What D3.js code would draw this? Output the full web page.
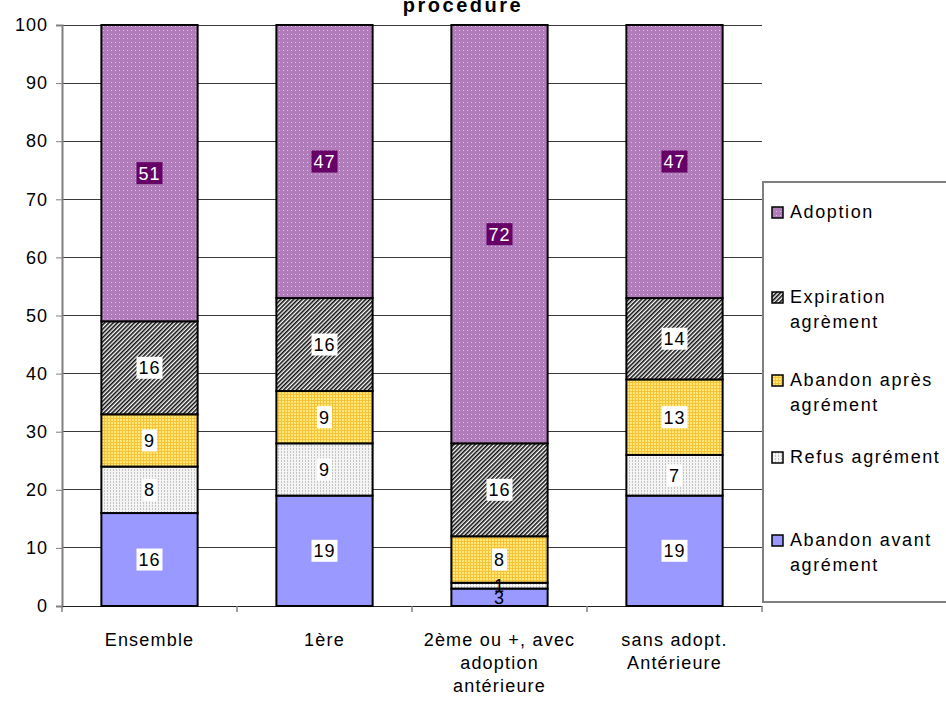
<!DOCTYPE html>
<html>
<head>
<meta charset="utf-8">
<script src="https://cdn.jsdelivr.net/npm/d3@7"></script>
<style>
  body { margin: 0; background: #fff; }
  svg { font-family: Arial, "Liberation Sans", sans-serif; }
</style>
</head>
<body>
<div class="chart"></div>
<script>
// Data.
const categories = ["Ensemble", "1ère", "2ème ou +, avec adoption antérieure", "sans adopt. Antérieure"];
const categoryLines = [["Ensemble"], ["1ère"], ["2ème ou +, avec", "adoption", "antérieure"], ["sans adopt.", "Antérieure"]];
const seriesNames = ["Abandon avant agrément", "Refus agrément", "Abandon après agrément", "Expiration agrèment", "Adoption"];
const abandonAvant = [16, 19, 3, 19];
const refus = [8, 9, 1, 7];
const abandonApres = [9, 9, 8, 13];
const expiration = [16, 16, 16, 14];
const adoption = [51, 47, 72, 47];
const yTicks = [0, 10, 20, 30, 40, 50, 60, 70, 80, 90, 100];

const seriesValues = [abandonAvant, refus, abandonApres, expiration, adoption];
const seriesKeys = ["avant", "refus", "apres", "expir", "adopt"];

const table = categories.map((c, i) => {
  const row = { cat: c };
  seriesKeys.forEach((k, j) => (row[k] = seriesValues[j][i]));
  return row;
});

// Layout.
const W = 946, H = 704;
const margin = { top: 25, right: 184, bottom: 98, left: 62 };
const width = W - margin.left - margin.right;
const height = H - margin.top - margin.bottom;

const svg = d3.select(".chart").append("svg").attr("width", W).attr("height", H);

// Patterns.
const defs = svg.append("defs");

const pAdopt = defs.append("pattern").attr("id", "p-adopt").attr("patternUnits", "userSpaceOnUse")
  .attr("width", 4).attr("height", 4);
pAdopt.append("rect").attr("width", 4).attr("height", 4).attr("fill", "#b07cba");
pAdopt.append("rect").attr("x", 1).attr("y", 1).attr("width", 1).attr("height", 1).attr("fill", "#dcbfe0");

const pExpir = defs.append("pattern").attr("id", "p-expir").attr("patternUnits", "userSpaceOnUse")
  .attr("width", 3).attr("height", 3).attr("patternTransform", "rotate(45)");
pExpir.append("rect").attr("width", 3).attr("height", 3).attr("fill", "#fff");
pExpir.append("rect").attr("width", 1.6).attr("height", 3).attr("fill", "#111");

const pApres = defs.append("pattern").attr("id", "p-apres").attr("patternUnits", "userSpaceOnUse")
  .attr("width", 3).attr("height", 3);
pApres.append("rect").attr("width", 3).attr("height", 3).attr("fill", "#ffe877");
pApres.append("rect").attr("width", 3).attr("height", 1).attr("fill", "#f6c23a");
pApres.append("rect").attr("width", 1).attr("height", 3).attr("fill", "#f6c23a");

const pRefus = defs.append("pattern").attr("id", "p-refus").attr("patternUnits", "userSpaceOnUse")
  .attr("width", 3).attr("height", 3);
pRefus.append("rect").attr("width", 3).attr("height", 3).attr("fill", "#f4f4f4");
pRefus.append("rect").attr("width", 1).attr("height", 2).attr("fill", "#c4c4c4");

const fills = {
  avant: "#9999ff",
  refus: "url(#p-refus)",
  apres: "url(#p-apres)",
  expir: "url(#p-expir)",
  adopt: "url(#p-adopt)",
};

const g = svg.append("g").attr("transform", `translate(${margin.left},${margin.top})`);

// Scales.
const x = d3.scaleBand().domain(categories).range([0, width]).paddingInner(0.45).paddingOuter(0.225);
const y = d3.scaleLinear().domain([0, 100]).range([height, 0]);

// Gridlines.
g.append("g").selectAll("line").data(yTicks).join("line")
  .attr("x1", 0).attr("x2", width)
  .attr("y1", (d) => y(d)).attr("y2", (d) => y(d))
  .attr("stroke", "#3a3a3a").attr("stroke-width", 1)
  .attr("shape-rendering", "crispEdges");

// Axes.
const yAxis = g.append("g").call(d3.axisLeft(y).tickValues(yTicks).tickSize(6).tickPadding(8));
yAxis.select(".domain").attr("stroke", "#808080").attr("stroke-width", 2);
yAxis.selectAll(".tick line").attr("stroke", "#808080").attr("stroke-width", 1);
yAxis.selectAll("text").attr("font-size", 18).attr("letter-spacing", 1).attr("fill", "#000")
  .attr("font-family", "Arial, Liberation Sans, sans-serif");

const xAxis = g.append("g").attr("transform", `translate(0,${height})`)
  .call(d3.axisBottom(x).tickSize(0).tickFormat(""));
xAxis.select(".domain").attr("stroke", "#222").attr("stroke-width", 1);
// category separators
g.append("g").selectAll("line").data(d3.range(categories.length + 1)).join("line")
  .attr("x1", (i) => i * width / categories.length).attr("x2", (i) => i * width / categories.length)
  .attr("y1", height).attr("y2", height + 6)
  .attr("stroke", "#808080").attr("stroke-width", 1.5);

xAxis.selectAll(".tick").each(function (d, i) {
  const t = d3.select(this).append("text").attr("fill", "#000").attr("font-size", 18)
    .attr("letter-spacing", 1.2).attr("text-anchor", "middle").attr("y", 40);
  categoryLines[i].forEach((line, k) => {
    t.append("tspan").attr("x", 0).attr("dy", k === 0 ? 0 : 23).text(line);
  });
});

// Bars.
const stack = d3.stack().keys(seriesKeys)(table);

const layers = g.selectAll(".layer").data(stack).join("g").attr("class", "layer");
layers.selectAll("rect").data((s) => s.map((d) => ({ key: s.key, d }))).join("rect")
  .attr("x", (o) => x(o.d.data.cat))
  .attr("width", x.bandwidth())
  .attr("y", (o) => y(o.d[1]))
  .attr("height", (o) => y(o.d[0]) - y(o.d[1]))
  .attr("fill", (o) => fills[o.key])
  .attr("stroke", "#000").attr("stroke-width", 2);

// Labels.
const labels = g.append("g");
stack.forEach((s) => {
  s.forEach((d) => {
    const val = d[1] - d[0];
    const cx = x(d.data.cat) + x.bandwidth() / 2;
    const cy = (y(d[0]) + y(d[1])) / 2;
    const txt = String(val);
    const w = txt.length * 11 + 4, h = 22;
    const isAdopt = s.key === "adopt";
    if (val >= 5) {
      labels.append("rect").attr("x", cx - w / 2).attr("y", cy - h / 2).attr("width", w).attr("height", h)
        .attr("fill", isAdopt ? "#660066" : "#fff");
    }
    labels.append("text").attr("x", cx).attr("y", cy).attr("dy", "0.36em")
      .attr("text-anchor", "middle").attr("font-size", 18).attr("letter-spacing", 1)
      .attr("fill", isAdopt ? "#fff" : "#000").text(txt);
  });
});

// Title (first line outside the view).
svg.append("text").attr("x", 463).attr("y", 12).attr("text-anchor", "middle")
  .attr("font-size", 20).attr("font-weight", "bold").attr("letter-spacing", 2.5).text("procedure");

// Legend.
const legend = svg.append("g").attr("transform", "translate(763,182)");
legend.append("rect").attr("width", 190).attr("height", 420).attr("fill", "#fff")
  .attr("stroke", "#808080").attr("stroke-width", 2);

const legendItems = [
  { key: "adopt", lines: ["Adoption"], y: 30 },
  { key: "expir", lines: ["Expiration", "agrèment"], y: 115 },
  { key: "apres", lines: ["Abandon après", "agrément"], y: 198 },
  { key: "refus", lines: ["Refus agrément"], y: 275 },
  { key: "avant", lines: ["Abandon avant", "agrément"], y: 358 },
];
legendItems.forEach((it) => {
  legend.append("rect").attr("x", 9).attr("y", it.y - 5).attr("width", 11).attr("height", 11)
    .attr("fill", fills[it.key]).attr("stroke", "#000").attr("stroke-width", 1.5);
  const t = legend.append("text").attr("x", 27).attr("y", it.y)
    .attr("font-size", 18).attr("letter-spacing", 1.6).attr("fill", "#000");
  it.lines.forEach((line, k) => {
    t.append("tspan").attr("x", 27).attr("dy", k === 0 ? "0.36em" : 25).text(line);
  });
});
</script>
</body>
</html>
